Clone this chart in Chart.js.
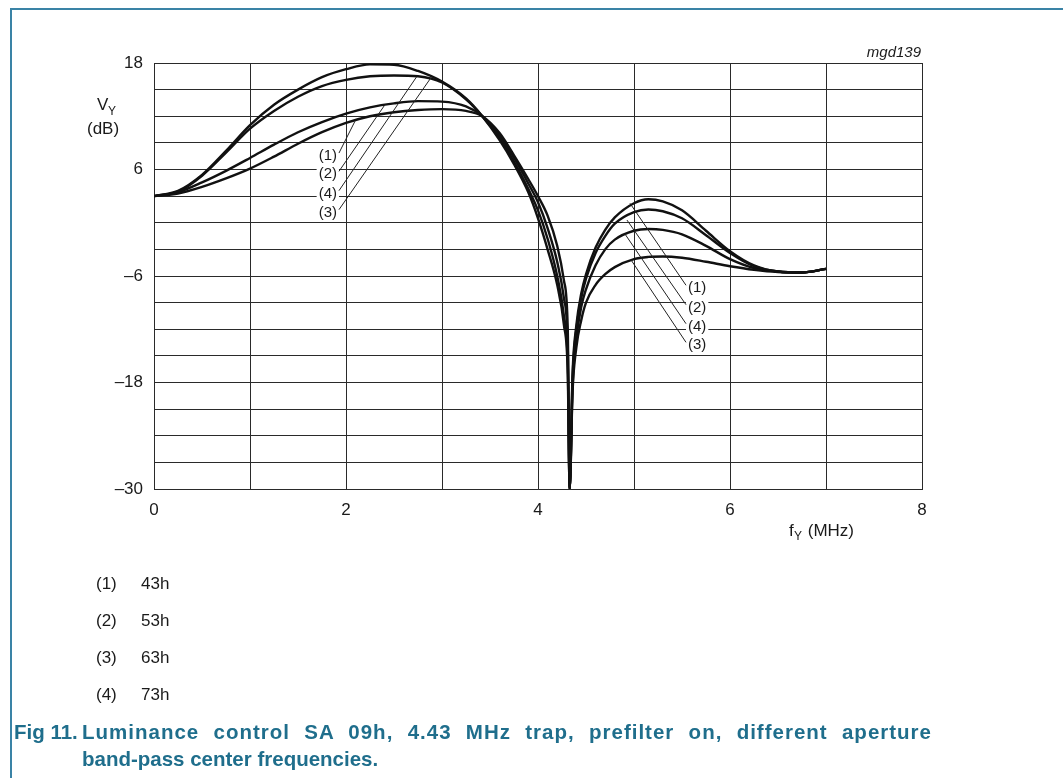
<!DOCTYPE html>
<html>
<head>
<meta charset="utf-8">
<script src="https://cdn.jsdelivr.net/npm/chart.js@4/dist/chart.umd.min.js"></script>
<style>
  html, body { margin: 0; padding: 0; background: #fff; }
  body { width: 1063px; height: 778px; position: relative; overflow: hidden;
         font-family: "Liberation Sans", Arial, Helvetica, sans-serif; }
  #frame { position: absolute; left: 10px; top: 8px; width: 1100px; height: 800px;
           border-left: 2px solid #3a83a6; border-top: 2px solid #3a83a6; }
  #chart { position: absolute; left: 0; top: 0; }
  .key { position: absolute; font-size: 17px; color: #1a1a1a; line-height: 20px; height: 20px; }
  .cap { position: absolute; font-size: 20.5px; font-weight: bold; color: #1f6e8c;
         line-height: 24px; white-space: nowrap; }
  .just { white-space: normal; width: 850px; letter-spacing: 1px;
          text-align: justify; text-align-last: justify; }
</style>
</head>
<body>
<div id="frame"></div>
<canvas id="chart" width="1063" height="778"></canvas>
<div id="keys"></div>
<div class="cap" style="left:14px; top:720px;">Fig 11.</div>
<div class="cap just" style="left:82px; top:720px;">Luminance control SA 09h, 4.43 MHz trap, prefilter on, different aperture</div>
<div class="cap" style="left:82px; top:747px;">band-pass center frequencies.</div>
<script>
// Frequency grid (MHz), shared by all four curves; dense around the trap notch.
const freqMHz = [0, 0.25, 0.5, 0.75, 1, 1.25, 1.5, 1.75, 2, 2.25, 2.5, 2.75, 3, 3.25,
  3.42, 3.6, 3.75, 3.9, 4.0, 4.1, 4.2, 4.27, 4.31, 4.33,
  4.36, 4.4, 4.45, 4.5, 4.6, 4.7, 4.8, 5.0, 5.15, 5.3, 5.5, 5.75, 6.0, 6.25, 6.5, 6.75, 7.0];

// V_Y in dB for each aperture band-pass centre setting
const vy43h = [3, 3.3, 4.05, 5.0, 6.1, 7.45, 8.9, 10.2, 11.25, 12.0, 12.45, 12.7, 12.8, 12.6,
  12.0, 10.1, 7.6, 4.9, 3.0, 0.8, -2.6, -6.5, -12, -30,
  -17, -11.5, -8.0, -5.8, -2.8, -0.8, 0.6, 2.2, 2.65, 2.4, 1.4, -0.9, -3.2, -4.8, -5.5, -5.6, -5.2];
const vy53h = [3, 3.45, 4.55, 5.85, 7.3, 8.8, 10.2, 11.35, 12.3, 13.0, 13.45, 13.7, 13.65, 13.1,
  12.0, 9.8, 7.3, 4.4, 2.3, -0.6, -4.4, -8.5, -14, -30,
  -17.5, -12, -8.5, -6.3, -3.4, -1.5, -0.1, 1.2, 1.5, 1.3, 0.5, -1.4, -3.4, -4.9, -5.5, -5.6, -5.2];
const vy63h = [3, 3.6, 5.4, 8.1, 11.0, 13.3, 15.0, 16.4, 17.3, 17.85, 17.8, 17.1, 15.9, 14.0,
  12.0, 9.3, 6.6, 3.4, 0.5, -3.0, -7.0, -11.5, -17, -30,
  -19, -14, -11, -9, -7, -5.8, -5.0, -4.1, -3.85, -3.8, -3.95, -4.4, -4.9, -5.3, -5.55, -5.6, -5.2];
const vy73h = [3, 3.5, 5.3, 7.9, 10.6, 12.6, 14.2, 15.4, 16.1, 16.5, 16.6, 16.5, 15.8, 13.9,
  12.0, 9.5, 6.9, 3.8, 1.4, -1.8, -6.0, -10.5, -16, -30,
  -18.5, -13, -9.5, -7.5, -4.8, -3.0, -1.9, -0.9, -0.7, -0.8, -1.3, -2.6, -4.1, -5.1, -5.5, -5.6, -5.2];

const curveTags = ['(1)', '(2)', '(3)', '(4)'];
const curveCodes = ['43h', '53h', '63h', '73h'];
const yTickLabels = [18, 6, -6, -18, -30];
const xTickLabels = [0, 2, 4, 6, 8];

// Callouts in data units: tag position and leader end on its curve.
const leftCallouts = [
  { tag: '(1)', at: [1.906, 7.63], to: [2.094, 11.45] },
  { tag: '(2)', at: [1.906, 5.57], to: [2.406, 13.3] },
  { tag: '(4)', at: [1.906, 3.39], to: [2.736, 16.45] },
  { tag: '(3)', at: [1.906, 1.25], to: [2.892, 16.45] }
];
const rightCallouts = [
  { tag: '(1)', at: [5.5625, -7.27], to: [4.958, 2.2] },
  { tag: '(2)', at: [5.5625, -9.46], to: [4.927, 0.3] },
  { tag: '(4)', at: [5.5625, -11.6], to: [4.906, -1.27] },
  { tag: '(3)', at: [5.5625, -13.7], to: [4.97, -4.2] }
];

const FONT = '"Liberation Sans", Arial, Helvetica, sans-serif';
const INK = '#1a1a1a';

// legend rows under the plot
const keys = document.getElementById('keys');
[0, 1, 2, 3].forEach(i => {
  const top = 574 + i * 37;
  const a = document.createElement('div');
  a.className = 'key'; a.style.left = '96px'; a.style.top = top + 'px';
  a.textContent = curveTags[i];
  const b = document.createElement('div');
  b.className = 'key'; b.style.left = '141px'; b.style.top = top + 'px';
  b.textContent = curveCodes[i];
  keys.appendChild(a); keys.appendChild(b);
});

const toPoints = arr => freqMHz.map((f, i) => ({ x: f, y: arr[i] }));
const series = [vy43h, vy53h, vy63h, vy73h];

const fmt = v => (v < 0 ? '\u2013' + Math.abs(v) : String(v));

const annotate = {
  id: 'annotate',
  afterDraw(chart) {
    const { ctx, scales: { x, y } } = chart;
    const px = p => [x.getPixelForValue(p[0]), y.getPixelForValue(p[1])];
    ctx.save();
    // axis titles
    ctx.fillStyle = INK;
    ctx.textBaseline = 'alphabetic';
    ctx.textAlign = 'left';
    ctx.font = '17px ' + FONT;
    ctx.fillText('V', 97, 110);
    ctx.font = '12px ' + FONT;
    ctx.fillText('Y', 108, 115);
    ctx.font = '17px ' + FONT;
    ctx.fillText('(dB)', 87, 134);

    ctx.fillText('f', 789, 536);
    ctx.font = '12px ' + FONT;
    ctx.fillText('Y', 794, 540);
    ctx.font = '17px ' + FONT;
    ctx.fillText(' (MHz)', 803, 536);

    ctx.font = 'italic 15px ' + FONT;
    ctx.textAlign = 'right';
    ctx.fillText('mgd139', x.right - 1, 57);

    // callouts
    ctx.font = '15px ' + FONT;
    ctx.textBaseline = 'middle';
    ctx.lineWidth = 1;
    ctx.strokeStyle = '#222';
    const drawSet = (set, side) => {
      set.forEach(c => {
        const [tx, ty] = px(c.at);
        const w = ctx.measureText(c.tag).width;
        const left = side === 'left' ? tx - w : tx;
        ctx.fillStyle = '#fff';
        ctx.fillRect(left - 2, ty - 8, w + 4, 16);
        ctx.fillStyle = INK;
        ctx.textAlign = 'left';
        ctx.fillText(c.tag, left, ty + 1);
        const [ex, ey] = px(c.to);
        const sx = side === 'left' ? tx + 2 : tx - 2;
        const sy = ty - 2;
        ctx.beginPath();
        ctx.moveTo(sx, sy);
        ctx.lineTo(ex, ey);
        ctx.stroke();
      });
    };
    drawSet(leftCallouts, 'left');
    drawSet(rightCallouts, 'right');
    ctx.restore();
  }
};

new Chart(document.getElementById('chart'), {
  type: 'line',
  data: {
    datasets: series.map((arr, i) => ({
      label: curveTags[i] + ' ' + curveCodes[i],
      data: toPoints(arr),
      borderColor: '#111',
      borderWidth: 2.4,
      pointRadius: 0,
      fill: false,
      cubicInterpolationMode: 'monotone'
    }))
  },
  options: {
    responsive: false,
    animation: false,
    devicePixelRatio: 1,
    layout: { padding: { left: 0, top: 63, right: 141, bottom: 0 } },
    plugins: { legend: { display: false }, tooltip: { enabled: false } },
    scales: {
      x: {
        type: 'linear', min: 0, max: 8,
        afterFit: a => { a.height = 289; },
        grid: { color: '#2a2a2a', lineWidth: 1, drawTicks: false },
        border: { color: '#2a2a2a', width: 1 },
        ticks: {
          stepSize: 1, autoSkip: false, maxRotation: 0, padding: 11,
          color: INK, font: { family: FONT, size: 17 },
          callback: v => (xTickLabels.includes(v) ? fmt(v) : '')
        }
      },
      y: {
        type: 'linear', min: -30, max: 18,
        afterFit: a => { a.width = 154; },
        grid: { color: '#2a2a2a', lineWidth: 1, drawTicks: false },
        border: { color: '#2a2a2a', width: 1 },
        ticks: {
          stepSize: 3, autoSkip: false, padding: 11,
          color: INK, font: { family: FONT, size: 17 },
          callback: v => (yTickLabels.includes(v) ? fmt(v) : '')
        }
      }
    }
  },
  plugins: [annotate]
});
</script>
</body>
</html>
